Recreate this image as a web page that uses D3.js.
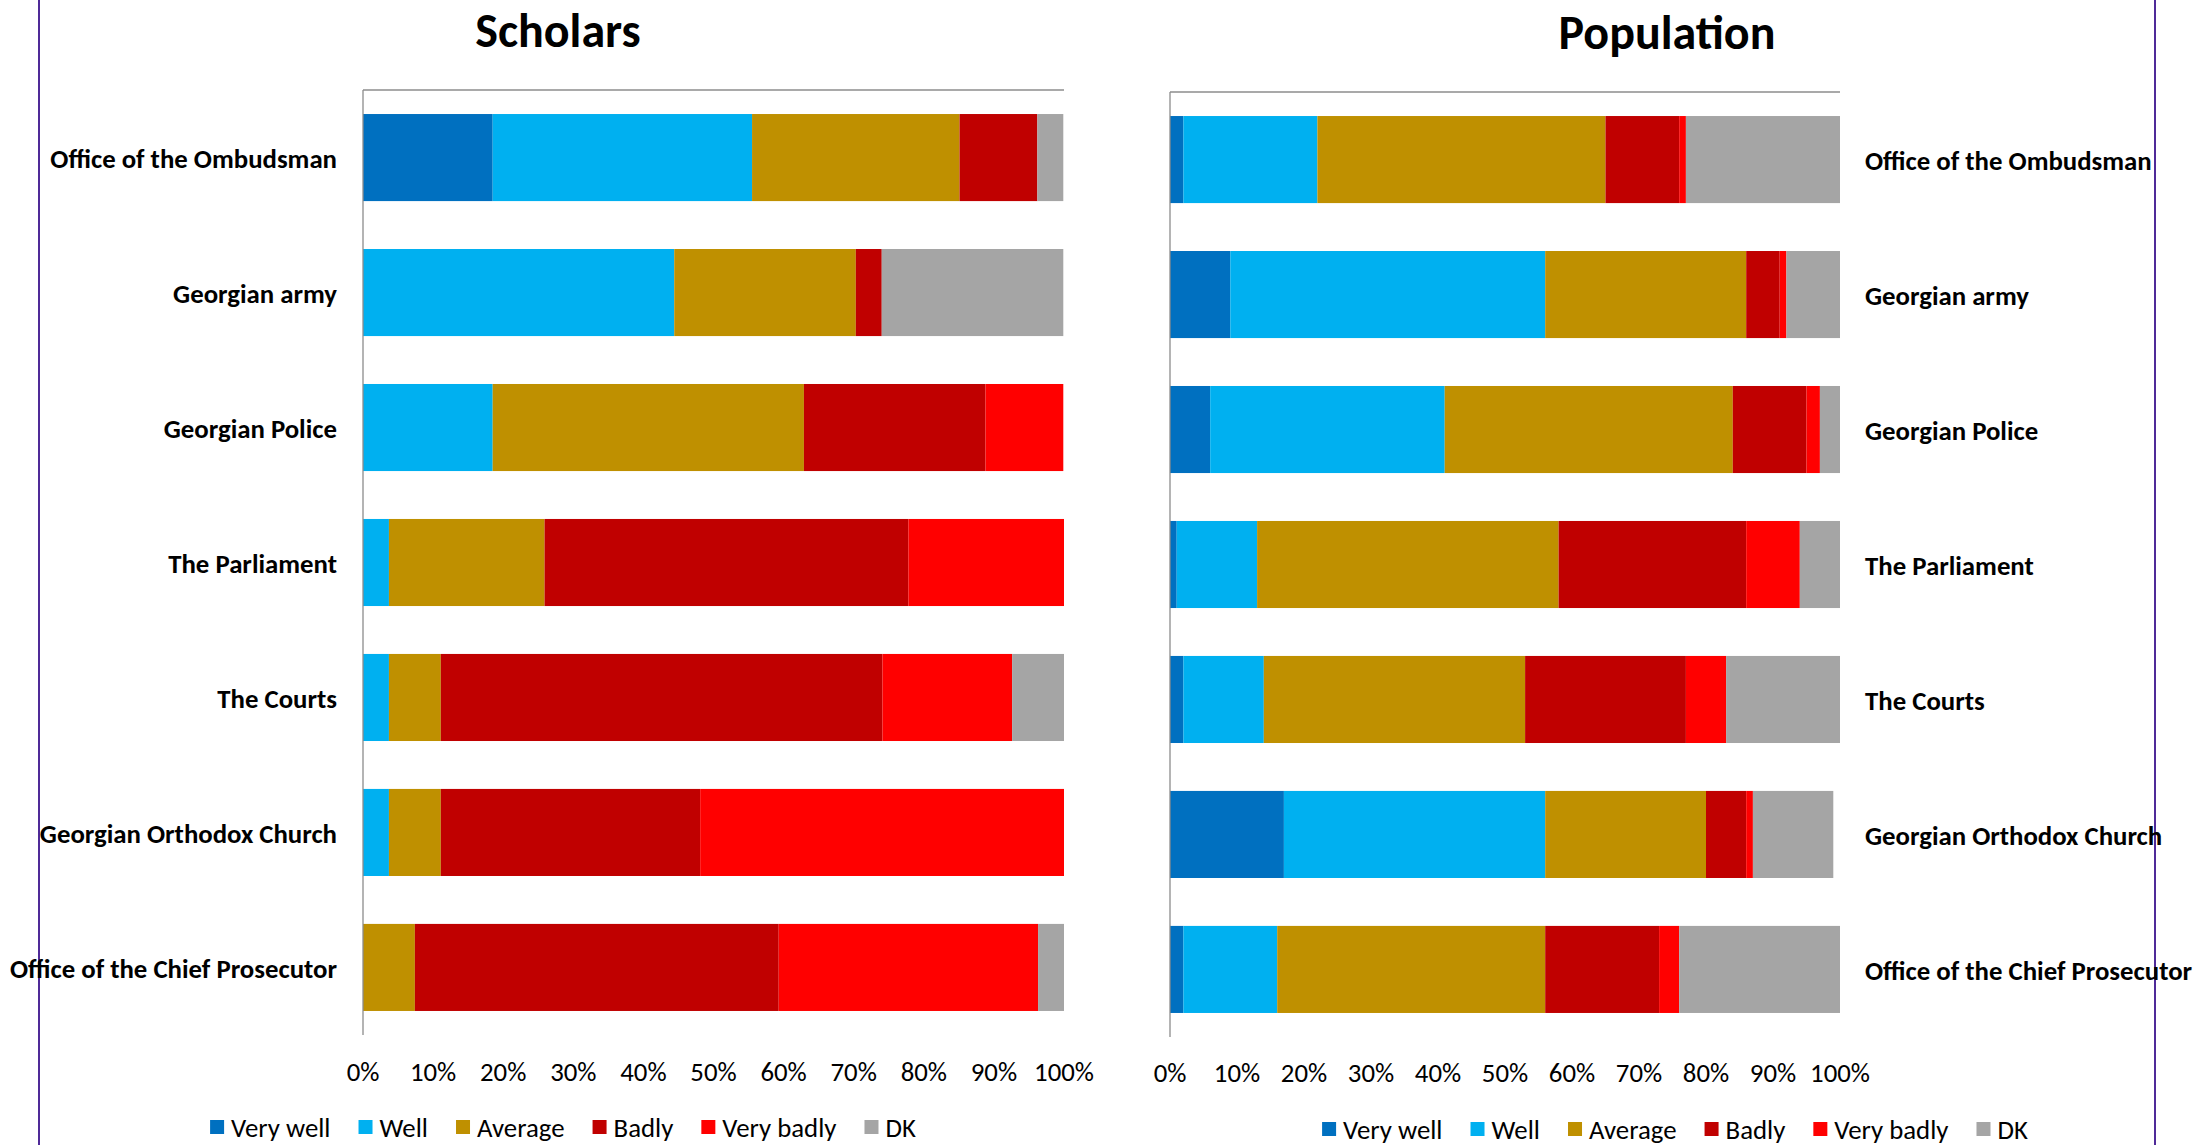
<!DOCTYPE html>
<html>
<head>
<meta charset="utf-8">
<script src="https://cdn.jsdelivr.net/npm/d3@7"></script>
<style>
  html, body { margin: 0; padding: 0; background: #fff; }
  svg { display: block; font-family: Carlito, Lato, sans-serif; }
</style>
</head>
<body>
<svg id="chart"></svg>
<script>
// institutions, top to bottom
const institutions = [
    'Office of the Ombudsman',
    'Georgian army',
    'Georgian Police',
    'The Parliament',
    'The Courts',
    'Georgian Orthodox Church',
    'Office of the Chief Prosecutor'
];

const answers = ['Very well', 'Well', 'Average', 'Badly', 'Very badly', 'DK'];
const answerColors = ['#0070C0', '#00B0F0', '#BF9000', '#C00000', '#FF0000', '#A5A5A5'];

const tickValues = [0, 10, 20, 30, 40, 50, 60, 70, 80, 90, 100];

// percent per answer (Very well, Well, Average, Badly, Very badly, DK)
const scholarsVeryWell  = [18.5, 0, 0, 0, 0, 0, 0];
const scholarsWell      = [37.0, 44.4, 18.5, 3.7, 3.7, 3.7, 0];
const scholarsAverage   = [29.6, 25.9, 44.4, 22.2, 7.4, 7.4, 7.4];
const scholarsBadly     = [11.1, 3.7, 25.9, 51.9, 63.0, 37.0, 51.9];
const scholarsVeryBadly = [0, 0, 11.1, 22.2, 18.5, 51.9, 37.0];
const scholarsDK        = [3.7, 25.9, 0, 0, 7.4, 0, 3.7];

const populationVeryWell  = [2, 9, 6, 1, 2, 17, 2];
const populationWell      = [20, 47, 35, 12, 12, 39, 14];
const populationAverage   = [43, 30, 43, 45, 39, 24, 40];
const populationBadly     = [11, 5, 11, 28, 24, 6, 17];
const populationVeryBadly = [1, 1, 2, 8, 6, 1, 3];
const populationDK        = [23, 8, 3, 6, 17, 12, 24];

const width = 2199;
const height = 1145;
const fontSize = 26.8;
const legendGap = 28;

const svg = d3.select('#chart')
    .attr('width', width)
    .attr('height', height);

// purple frame lines
svg.append('line')
    .attr('x1', 39).attr('x2', 39)
    .attr('y1', 0).attr('y2', height)
    .attr('stroke', '#4f2a98').attr('stroke-width', 2);
svg.append('line')
    .attr('x1', 2155).attr('x2', 2155)
    .attr('y1', 0).attr('y2', height)
    .attr('stroke', '#4f2a98').attr('stroke-width', 2);

function buildRows(series) {
    return institutions.map(function (name, i) {
        const row = { name: name };
        answers.forEach(function (a, k) { row[a] = series[k][i]; });
        return row;
    });
}

function drawPanel(opts) {
    const g = svg.append('g');
    const rows = buildRows(opts.series);
    const stacked = d3.stack().keys(answers)(rows);

    const x = d3.scaleLinear().domain([0, 100]).range([opts.x0, opts.x1]);
    const y = d3.scaleBand()
        .domain(institutions)
        .range([opts.y0, opts.y1])
        .paddingInner(0.355)
        .paddingOuter(0.178);

    // bars
    g.selectAll('g.layer')
        .data(stacked)
        .enter()
        .append('g')
        .attr('class', 'layer')
        .attr('fill', function (d, i) { return answerColors[i]; })
        .selectAll('rect')
        .data(function (d) { return d; })
        .enter()
        .append('rect')
        .attr('x', function (d) { return x(d[0]); })
        .attr('y', function (d) { return y(d.data.name); })
        .attr('width', function (d) { return Math.max(0, x(d[1]) - x(d[0])); })
        .attr('height', y.bandwidth());

    // axis lines (left + top)
    g.append('line')
        .attr('x1', opts.x0).attr('x2', opts.x0)
        .attr('y1', opts.y0).attr('y2', opts.y1)
        .attr('stroke', '#8c8c8c').attr('stroke-width', 1.3);
    g.append('line')
        .attr('x1', opts.x0).attr('x2', opts.x1)
        .attr('y1', opts.y0).attr('y2', opts.y0)
        .attr('stroke', '#8c8c8c').attr('stroke-width', 1.3);

    // tick labels
    g.selectAll('text.tick')
        .data(tickValues)
        .enter()
        .append('text')
        .attr('class', 'tick')
        .attr('x', function (d) { return x(d); })
        .attr('y', opts.tickY)
        .attr('text-anchor', 'middle')
        .attr('dominant-baseline', 'central')
        .attr('font-size', fontSize)
        .attr('fill', '#000')
        .text(function (d) { return d + '%'; });

    // category labels
    g.selectAll('text.cat')
        .data(institutions)
        .enter()
        .append('text')
        .attr('class', 'cat')
        .attr('x', opts.labelX)
        .attr('y', function (d) { return y(d) + y.bandwidth() / 2 + 1; })
        .attr('text-anchor', opts.labelAnchor)
        .attr('dominant-baseline', 'central')
        .attr('font-size', fontSize)
        .attr('font-weight', 'bold')
        .attr('fill', '#000')
        .text(function (d) { return d; });

    // title
    g.append('text')
        .attr('x', opts.titleX)
        .attr('y', opts.titleY)
        .attr('text-anchor', 'middle')
        .attr('dominant-baseline', 'central')
        .attr('font-size', 48)
        .attr('font-weight', 'bold')
        .attr('fill', '#000')
        .text(opts.title);

    // legend, laid out left to right and centred
    const legend = g.append('g');
    let cursor = 0;
    answers.forEach(function (a, i) {
        const item = legend.append('g').attr('transform', 'translate(' + cursor + ',0)');
        item.append('rect')
            .attr('x', 0).attr('y', -7)
            .attr('width', 14).attr('height', 14)
            .attr('fill', answerColors[i]);
        const t = item.append('text')
            .attr('x', 21)
            .attr('y', 0)
            .attr('dominant-baseline', 'central')
            .attr('font-size', fontSize)
            .attr('fill', '#000')
            .text(a);
        cursor += 21 + t.node().getComputedTextLength() + legendGap;
    });
    const legendWidth = cursor - legendGap;
    legend.attr('transform', 'translate(' + (opts.legendCenter - legendWidth / 2) + ',' + opts.legendY + ')');
}

drawPanel({
    title: 'Scholars',
    series: [scholarsVeryWell, scholarsWell, scholarsAverage, scholarsBadly, scholarsVeryBadly, scholarsDK],
    x0: 363, x1: 1064, y0: 90, y1: 1035,
    tickY: 1071,
    labelX: 337, labelAnchor: 'end',
    titleX: 558, titleY: 30,
    legendCenter: 563, legendY: 1127
});

drawPanel({
    title: 'Population',
    series: [populationVeryWell, populationWell, populationAverage, populationBadly, populationVeryBadly, populationDK],
    x0: 1170, x1: 1840, y0: 92, y1: 1037,
    tickY: 1072,
    labelX: 1865, labelAnchor: 'start',
    titleX: 1667, titleY: 32,
    legendCenter: 1675, legendY: 1129
});
</script>
</body>
</html>
